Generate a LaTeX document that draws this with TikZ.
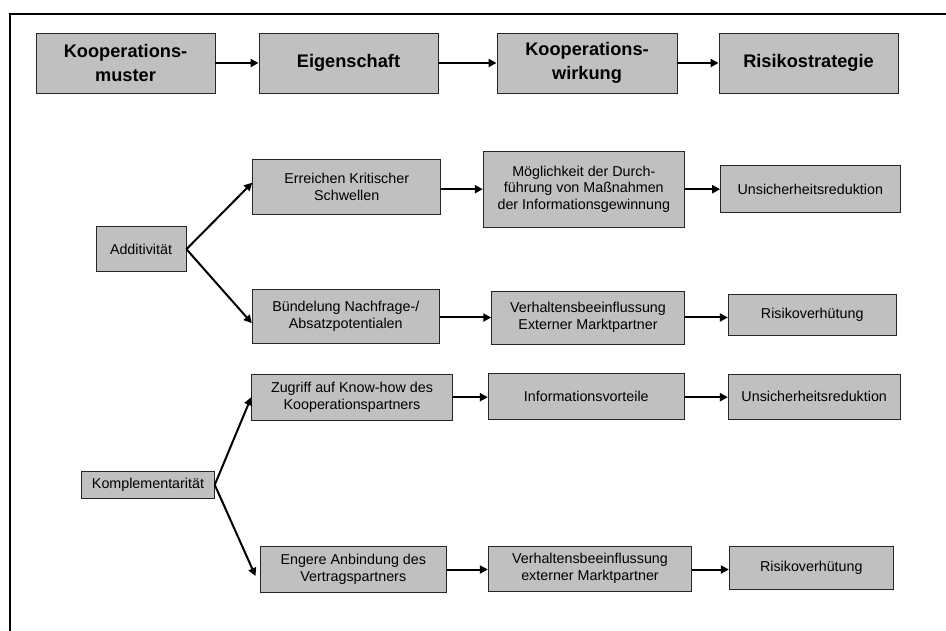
\documentclass[tikz,border=0pt]{standalone}
\usepackage{fontspec}
\setmainfont{Liberation Sans}
\usetikzlibrary{arrows.meta,calc}
\definecolor{boxgray}{HTML}{C0C0C0}
\begin{document}
\begin{tikzpicture}[x=1pt,y=-1pt,
  box/.style={draw=black!85,line width=0.9pt,fill=boxgray,inner sep=0pt,align=center,
    font=\fontsize{14.3}{16.6}\selectfont},
  headbox/.style={box,font=\fontsize{18.2}{24.5}\selectfont\bfseries},
  arr/.style={line width=2pt,-{Triangle[length=8pt,width=8pt]}}]
\useasboundingbox (0,0) rectangle (946,631);
\draw[line width=2pt] (10,631) -- (10,14.3) -- (946,14.3);
% header
\node[headbox,minimum width=179,minimum height=60] (h1) at (125.5,63) {Kooperations-\\muster};
\node[headbox,minimum width=179,minimum height=60] (h2) at (348.5,63) {Eigenschaft};
\node[headbox,minimum width=180,minimum height=60] (h3) at (587,63) {Kooperations-\\wirkung};
\node[headbox,minimum width=179,minimum height=60] (h4) at (808.5,63) {Risikostrategie};
\draw[arr] (h1.east) -- (h2.west);
\draw[arr] (h2.east) -- (h3.west);
\draw[arr] (h3.east) -- (h4.west);
% Additivitaet
\node[box,minimum width=90,minimum height=45] (add) at (141,249.2) {Additivität};
\node[box,minimum width=188,minimum height=54.7] (err) at (346.7,186.7) {Erreichen Kritischer\\Schwellen};
\node[box,minimum width=201,minimum height=76.3] (moeg) at (583.8,189.2) {Möglichkeit der Durch-\\führung von Maßnahmen\\der Informationsgewinnung};
\node[box,minimum width=179.3,minimum height=47] (uns1) at (810.3,189.2) {Unsicherheitsreduktion};
\node[box,minimum width=187,minimum height=54.3] (bue) at (345.8,316.2) {Bündelung Nachfrage-/\\Absatzpotentialen};
\node[box,minimum width=192.6,minimum height=53] (verh1) at (588,317.5) {Verhaltensbeeinflussung\\Externer Marktpartner};
\node[box,minimum width=167.7,minimum height=41.4] (ris1) at (812.2,315) {Risikoverhütung};
\draw[arr] (add.east) -- ($(err.west)+(0,-4)$);
\draw[arr] (add.east) -- ($(bue.west)+(0,7)$);
\draw[arr] (err.east |- moeg.west) -- (moeg.west);
\draw[arr] (moeg.east) -- (moeg.east -| uns1.west);
\draw[arr] (bue.east |- verh1.west) -- (verh1.west);
\draw[arr] (verh1.east) -- (verh1.east -| ris1.west);
% Komplementaritaet
\node[box,minimum width=132.6,minimum height=27.7] (kom) at (148,484.8) {Komplementarität};
\node[box,minimum width=200.6,minimum height=45.7] (zug) at (352,397.2) {Zugriff auf Know-how des\\Kooperationspartners};
\node[box,minimum width=196,minimum height=45.7] (inf) at (586.3,396.2) {Informationsvorteile};
\node[box,minimum width=171.7,minimum height=45] (uns2) at (814.2,396.8) {Unsicherheitsreduktion};
\node[box,minimum width=186.7,minimum height=45.6] (eng) at (353.3,569.5) {Engere Anbindung des\\Vertragspartners};
\node[box,minimum width=203.4,minimum height=45] (verh2) at (590,568.5) {Verhaltensbeeinflussung\\externer Marktpartner};
\node[box,minimum width=164,minimum height=42.6] (ris2) at (811.3,568) {Risikoverhütung};
\draw[arr] (kom.east) -- (zug.west);
\draw[arr] (kom.east) -- ($(eng.west)+(-4,6.5)$);
\draw[arr] (zug.east) -- (zug.east -| inf.west);
\draw[arr] (inf.east |- zug.east) -- (zug.east -| uns2.west);
\draw[arr] (eng.east) -- (eng.east -| verh2.west);
\draw[arr] (verh2.east |- eng.east) -- (eng.east -| ris2.west);
\end{tikzpicture}
\end{document}
